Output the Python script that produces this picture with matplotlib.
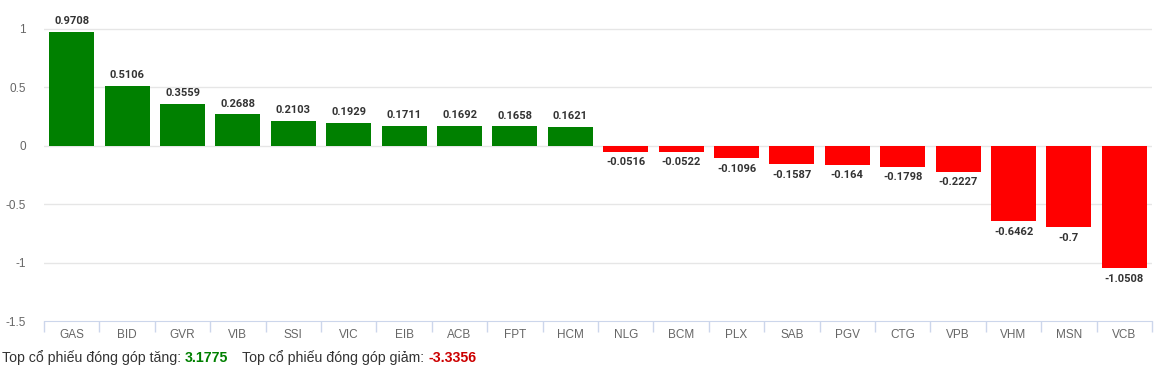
import matplotlib
matplotlib.use("Agg")
import matplotlib.pyplot as plt
import numpy as np

categories = ["GAS", "BID", "GVR", "VIB", "SSI", "VIC", "EIB", "ACB", "FPT", "HCM",
              "NLG", "BCM", "PLX", "SAB", "PGV", "CTG", "VPB", "VHM", "MSN", "VCB"]
values = [0.9708, 0.5106, 0.3559, 0.2688, 0.2103, 0.1929, 0.1711, 0.1692, 0.1658, 0.1621,
          -0.0516, -0.0522, -0.1096, -0.1587, -0.164, -0.1798, -0.2227, -0.6462, -0.7, -1.0508]
value_labels = ["0.9708", "0.5106", "0.3559", "0.2688", "0.2103", "0.1929", "0.1711", "0.1692",
                "0.1658", "0.1621", "-0.0516", "-0.0522", "-0.1096", "-0.1587", "-0.164",
                "-0.1798", "-0.2227", "-0.6462", "-0.7", "-1.0508"]
yticks = [1, 0.5, 0, -0.5, -1, -1.5]
ytick_labels = ["1", "0.5", "0", "-0.5", "-1", "-1.5"]
total_up = "3.1775"
total_down = "-3.3356"

plt.rcParams['font.family'] = ['Liberation Sans', 'DejaVu Sans']

fig = plt.figure(figsize=(11.73, 3.77), dpi=100)
ax = fig.add_axes([44/1173, 56/377, (1152-44)/1173, (366-56)/377])

x = np.arange(len(categories))
colors = ["#008000" if v >= 0 else "#ff0000" for v in values]
ax.bar(x, values, width=0.81, color=colors, zorder=3)

for xi, v, lab in zip(x, values, value_labels):
    if v >= 0:
        ax.annotate(lab, (xi, v), xytext=(0, 4), textcoords="offset points",
                    ha="center", va="bottom", fontsize=8, fontweight="bold", color="#333333",
                    family=["Roboto", "DejaVu Sans"])
    else:
        ax.annotate(lab, (xi, v), xytext=(0, -4), textcoords="offset points",
                    ha="center", va="top", fontsize=8, fontweight="bold", color="#333333",
                    family=["Roboto", "DejaVu Sans"])

ax.set_xlim(-0.5, len(categories) - 0.5)
ax.set_ylim(-1.5, 1.15)
ax.set_yticks(yticks)
ax.set_yticklabels(ytick_labels)
for t in yticks[:-1]:
    ax.axhline(t, color="#e6e6e6", lw=1, zorder=1)

for s in ["top", "right", "left"]:
    ax.spines[s].set_visible(False)
ax.spines["bottom"].set_color("#ccd6eb")
ax.tick_params(axis="y", length=0, labelsize=8.5, labelcolor="#666666", pad=13)

ax.set_xticks(x)
ax.set_xticklabels(categories)
ax.tick_params(axis="x", length=0, labelsize=8.5, labelcolor="#666666", pad=6)
ax.set_xticks(np.arange(-0.5, len(categories) + 0.5, 1), minor=True)
ax.tick_params(axis="x", which="minor", length=8, color="#ccd6eb", width=1)

fy = 1 - 358/377
fs = 10.2
t1 = fig.text(2/1173, fy, "Top cổ phiếu đóng góp tăng: ", fontsize=fs, color="#333333",
              va="center", ha="left")
r = fig.canvas.get_renderer()
bb = t1.get_window_extent(r)
t2 = fig.text(bb.x1 / 1173, fy, total_up, fontsize=fs, color="#008000",
              fontweight="bold", va="center", ha="left")
bb = t2.get_window_extent(r)
t3 = fig.text((bb.x1 + 14) / 1173, fy, "Top cổ phiếu đóng góp giảm: ", fontsize=fs,
              color="#333333", va="center", ha="left")
bb = t3.get_window_extent(r)
fig.text(bb.x1 / 1173, fy, total_down, fontsize=fs, color="#cc0000",
         fontweight="bold", va="center", ha="left")

fig.savefig("out.png", dpi=100)
